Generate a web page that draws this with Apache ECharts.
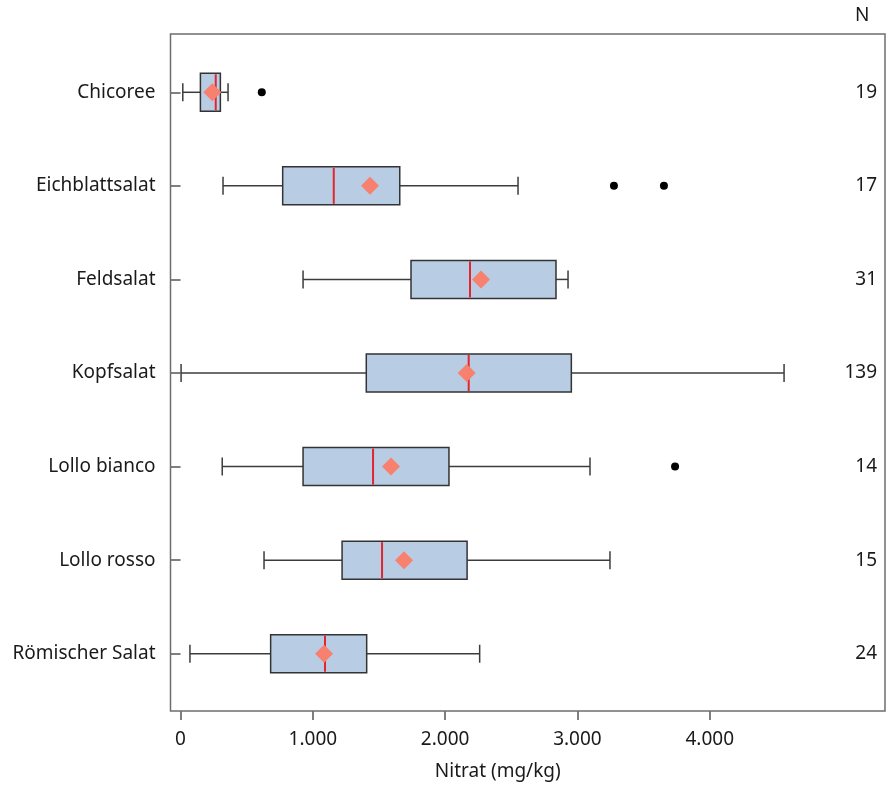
<!DOCTYPE html>
<html>
<head>
    <meta charset="utf-8">
    <style>
        html, body { margin: 0; padding: 0; background: #fff; }
    </style>
</head>
<body>

<div id="main" style="width: 890px;height:787px;"></div>
<script src="https://cdn.jsdelivr.net/npm/echarts@6/dist/echarts.min.js"></script>
<script type="text/javascript">
    // Salatsorten (von oben nach unten)
    var categories = ['Chicoree', 'Eichblattsalat', 'Feldsalat', 'Kopfsalat', 'Lollo bianco', 'Lollo rosso', 'Römischer Salat'];
    var counts = ['19', '17', '31', '139', '14', '15', '24'];
    // [min, Q1, Median, Q3, max] in mg/kg
    var boxValues = [
        [17, 150, 266, 301, 359],
        [321, 772, 1158, 1657, 2551],
        [926, 1742, 2188, 2838, 2929],
        [4, 1404, 2178, 2954, 4562],
        [315, 926, 1455, 2029, 3095],
        [631, 1221, 1523, 2166, 3246],
        [71, 681, 1092, 1407, 2261]
    ];
    var means = [240, 1432, 2271, 2163, 1591, 1689, 1085];
    // Ausreißer: [Wert, Zeilenindex]
    var outliers = [[614, 0], [3276, 1], [3654, 1], [3738, 4]];
    var xTicks = [0, 1000, 2000, 3000, 4000];

    var FONT = 'Noto Sans';
    var textColor = '#1a1a1a';

    var boxData = boxValues.map(function (b, i) {
        return [i].concat(b);
    });
    var meanData = means.map(function (m, i) {
        return [m, i];
    });

    function renderBox(params, api) {
        var cat = api.value(0);
        var y = api.coord([0, cat])[1];
        var xLow = api.coord([api.value(1), cat])[0];
        var xQ1 = api.coord([api.value(2), cat])[0];
        var xMed = api.coord([api.value(3), cat])[0];
        var xQ3 = api.coord([api.value(4), cat])[0];
        var xHigh = api.coord([api.value(5), cat])[0];
        var h = 38, cap = 9;
        var lineStyle = { stroke: '#3c3c3c', lineWidth: 1.5 };
        return {
            type: 'group',
            children: [
                { type: 'line', shape: { x1: xLow, y1: y, x2: xQ1, y2: y }, style: lineStyle },
                { type: 'line', shape: { x1: xQ3, y1: y, x2: xHigh, y2: y }, style: lineStyle },
                { type: 'line', shape: { x1: xLow, y1: y - cap, x2: xLow, y2: y + cap }, style: lineStyle },
                { type: 'line', shape: { x1: xHigh, y1: y - cap, x2: xHigh, y2: y + cap }, style: lineStyle },
                {
                    type: 'rect',
                    shape: { x: xQ1, y: y - h / 2, width: xQ3 - xQ1, height: h },
                    style: { fill: '#b8cce4', stroke: '#333333', lineWidth: 1.5 }
                },
                { type: 'line', shape: { x1: xMed, y1: y - h / 2 + 1, x2: xMed, y2: y + h / 2 - 1 }, style: { stroke: '#e3262e', lineWidth: 2 } }
            ]
        };
    }

    var option = {
        animation: false,
        textStyle: { fontFamily: FONT },
        grid: {
            left: 170.5,
            right: 5,
            top: 45.5,
            bottom: 86.5
        },
        graphic: [
            {
                type: 'rect',
                shape: { x: 170.5, y: 34, width: 714.5, height: 677 },
                style: { fill: 'none', stroke: '#6e6e6e', lineWidth: 1.5 },
                z: 1
            },
            {
                type: 'text',
                left: 855,
                top: 6,
                style: { text: 'N', font: '19px "Noto Sans"', fill: textColor }
            }
        ],
        xAxis: {
            type: 'value',
            min: -76,
            max: 5325,
            offset: 10.5,
            axisLine: { show: false },
            splitLine: { show: false },
            axisTick: {
                show: true,
                length: 9,
                customValues: xTicks,
                lineStyle: { color: '#555', width: 1.5 }
            },
            axisLabel: {
                customValues: xTicks,
                margin: 19,
                fontSize: 19,
                color: textColor,
                formatter: function (v) {
                    return String(v).replace(/\B(?=(\d{3})+(?!\d))/g, '.');
                }
            },
            name: 'Nitrat (mg/kg)',
            nameLocation: 'middle',
            nameGap: 51,
            nameTextStyle: { fontSize: 19, color: textColor, padding: [0, 60, 0, 0] }
        },
        yAxis: [
            {
                type: 'category',
                inverse: true,
                data: categories,
                axisLine: { show: false },
                axisTick: { show: true, alignWithLabel: true, length: 10, lineStyle: { color: '#555', width: 1.5 } },
                axisLabel: { margin: 15, fontSize: 19, color: textColor }
            },
            {
                type: 'category',
                inverse: true,
                position: 'right',
                data: counts,
                axisLine: { show: false },
                axisTick: { show: false },
                axisLabel: { inside: true, margin: 8, fontSize: 19, color: textColor }
            }
        ],
        series: [
            {
                type: 'custom',
                renderItem: renderBox,
                data: boxData,
                encode: { x: [1, 2, 3, 4, 5], y: 0 },
                z: 2
            },
            {
                type: 'scatter',
                data: meanData,
                symbol: 'diamond',
                symbolSize: [18, 18],
                itemStyle: { color: '#f8806e', opacity: 1 },
                z: 3
            },
            {
                type: 'scatter',
                data: outliers,
                symbol: 'circle',
                symbolSize: 8,
                itemStyle: { color: '#000', opacity: 1 },
                z: 3
            }
        ]
    };

    var myChart = echarts.init(document.getElementById('main'));
    myChart.setOption(option);
</script>
</body>
</html>
